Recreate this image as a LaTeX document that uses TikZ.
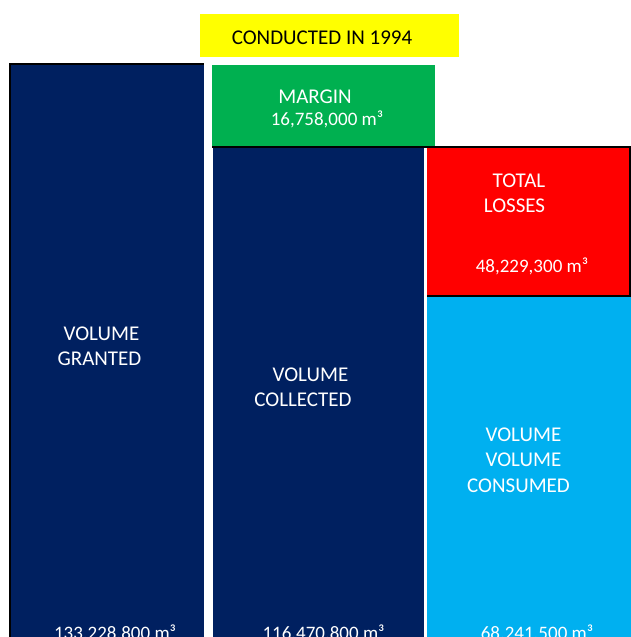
\documentclass[tikz,border=0pt]{standalone}
\usepackage{fontspec}
\setmainfont{Carlito}
\definecolor{navy}{HTML}{002060}
\definecolor{officegreen}{HTML}{00B050}
\definecolor{officered}{HTML}{FF0000}
\definecolor{skyblue}{HTML}{00B0F0}
\definecolor{banner}{HTML}{FFFF00}
\tikzset{
  word/.style={anchor=base, inner sep=0pt, text=white, font=\fontsize{21}{25}\selectfont},
  amount/.style={anchor=base, inner sep=0pt, text=white, font=\fontsize{19}{23}\selectfont},
  edge/.style={draw=black, line width=1.8pt},
}
\begin{document}
\begin{tikzpicture}[x=1pt,y=-1pt]
  \useasboundingbox (0,0) rectangle (631,637);
  % banner
  \fill[banner] (200,14) rectangle (459,57);
  \node[word, text=black] (title) at (322,44) {CONDUCTED IN 1994};
  % volume granted
  \fill[navy] (10,64) rectangle (204,640);
  \draw[edge] (10,640) -- (10,64) -- (204,64);
  \node[word] (granted1) at (101.5,340) {VOLUME};
  \node[word] (granted2) at (99.5,365) {GRANTED};
  \node[amount] (grantedval) at (115,639.5) {133,228,800 m³};
  % margin
  \fill[officegreen] (212,65) rectangle (435,146);
  \node[word] (margin) at (315,103) {MARGIN};
  \node[amount] (marginval) at (327,125) {16,758,000 m³};
  % volume collected
  \fill[navy] (213,146) rectangle (424,640);
  \node[word] (collected1) at (310.5,381) {VOLUME};
  \node[word] (collected2) at (303,406) {COLLECTED};
  \node[amount] (collectedval) at (323.5,639.5) {116,470,800 m³};
  % total losses
  \fill[officered] (427,146) rectangle (630,296);
  \node[word] (losses1) at (519,187) {TOTAL};
  \node[word] (losses2) at (514.5,212) {LOSSES};
  \node[amount] (lossesval) at (532,272) {48,229,300 m³};
  % volume consumed
  \fill[skyblue] (427,297) rectangle (631,640);
  \node[word] (consumed1) at (523.5,441.7) {VOLUME};
  \node[word] (consumed2) at (523.5,466.7) {VOLUME};
  \node[word] (consumed3) at (518.5,492.7) {CONSUMED};
  \node[amount] (consumedval) at (537,639.5) {68,241,500 m³};
  % outlines
  \draw[edge] (212,147) -- (629.6,147) -- (629.6,295.8) -- (427,295.8);
\end{tikzpicture}
\end{document}
